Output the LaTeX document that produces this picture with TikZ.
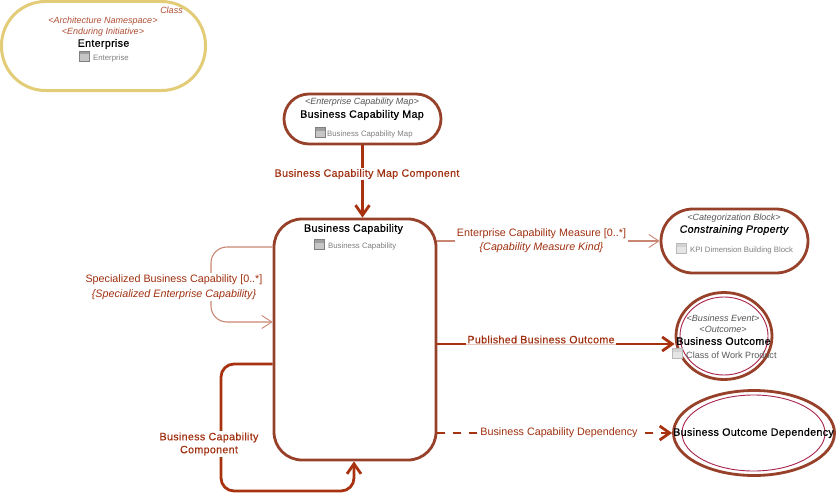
\documentclass[tikz,border=0pt]{standalone}
\usepackage{fontspec}
\setmainfont{Liberation Sans}
\newfontface\titlefont[LetterSpace=3,FakeBold=0.6]{Liberation Sans}
\newfontface\titleitfont[LetterSpace=3,FakeBold=0.6]{Liberation Sans Italic}
\newfontface\lblfont[LetterSpace=3,FakeBold=0.25]{Liberation Sans}
\usetikzlibrary{arrows.meta,calc,shapes.geometric}
\definecolor{shapeline}{HTML}{97402A}
\definecolor{yellowline}{HTML}{E3CC78}
\definecolor{boldline}{HTML}{A83210}
\definecolor{thinline}{HTML}{C98672}
\definecolor{lbl}{HTML}{A03010}
\definecolor{stereo}{HTML}{555555}
\definecolor{innerline}{HTML}{A8244A}
\tikzset{
  x=1pt,y=-1pt,
  rbox/.style={draw=shapeline,line width=2.8pt,fill=white,rectangle,inner sep=0pt},
  ell/.style={draw=shapeline,line width=2.8pt,fill=white,ellipse,inner sep=0pt},
  ellin/.style={draw=innerline,line width=0.9pt,ellipse,inner sep=0pt},
  title/.style={font=\titlefont\fontsize{10.7}{12}\selectfont,text=black,inner sep=0pt},
  titleit/.style={font=\titleitfont\fontsize{10.6}{12}\selectfont,text=black,inner sep=0pt},
  st/.style={font=\itshape\fontsize{9}{10}\selectfont,text=stereo,inner sep=0pt},
  stred/.style={font=\itshape\fontsize{9}{10}\selectfont,text=lbl!85!white,inner sep=0pt},
  sub/.style={font=\fontsize{7.8}{9}\selectfont,text=gray,inner sep=0pt,anchor=west},
  iconbox/.style={draw=gray,line width=0.7pt,fill=gray!45,minimum width=10pt,minimum height=10pt,inner sep=0pt,
    path picture={\fill[gray!75] (path picture bounding box.north west) rectangle ([yshift=-3.5pt]path picture bounding box.north east);}},
  iconpale/.style={draw=gray!55,line width=0.7pt,fill=gray!20,minimum width=10pt,minimum height=10pt,inner sep=0pt,
    path picture={\fill[gray!35] (path picture bounding box.north west) rectangle ([yshift=-3.5pt]path picture bounding box.north east);}},
  bold/.style={draw=boldline,line width=2.8pt},
  boldarrow/.style={bold,-{Straight Barb[length=10pt,width=14pt,line width=2.8pt]}},
  thin/.style={draw=thinline,line width=1.1pt},
  thinarrow/.style={thin,-{Straight Barb[length=10pt,width=13pt,line width=0.9pt]}},
  lab/.style={font=\lblfont\fontsize{10.7}{13}\selectfont,text=lbl,fill=white,inner sep=1.5pt,align=center},
  labr/.style={font=\fontsize{10.75}{15}\selectfont,text=lbl,fill=white,inner sep=1.5pt,align=center},
}
\begin{document}
\begin{tikzpicture}
\useasboundingbox (0,0) rectangle (837,495);
% shapes
\node[rbox,draw=yellowline,line width=3pt,rounded corners=44pt,minimum width=204pt,minimum height=89pt] (ent) at (103.5,46) {};
\node[rbox,rounded corners=25pt,minimum width=157pt,minimum height=50pt] (bcm) at (362.5,119) {};
\node[rbox,rounded corners=28pt,minimum width=162pt,minimum height=241pt] (bc) at (355,339.5) {};
\node[rbox,rounded corners=32pt,minimum width=147pt,minimum height=64pt] (cp) at (734.5,241) {};
\node[ell,minimum width=96pt,minimum height=87pt] (bo) at (724,336) {};
\node[ellin,minimum width=88pt,minimum height=78pt] (boin) at (724,336) {};
\node[ell,minimum width=161pt,minimum height=85pt] (dep) at (754,433) {};
\node[ellin,minimum width=143pt,minimum height=76pt] (depin) at (753.5,433) {};
% anchor points on the business capability box
\coordinate (pubstart) at (bc.east |- 0,344);
\coordinate (loopa) at (bc.west |- 0,247);
\coordinate (loopb) at (bc.west |- 0,322);
\coordinate (loopc) at (bc.west |- 0,364);
\coordinate (loopd) at (354,0 |- bc.south);
% connectors
\draw[boldarrow] (bcm.south) -- (bcm.south |- bc.north);
\draw[thinarrow] (bc.east |- cp.west) -- (cp.west);
\draw[boldarrow] (pubstart) -- (bo.west |- pubstart);
\draw[boldarrow,dash pattern=on 8pt off 8pt] (bc.east |- dep.west) -- (dep.west);
\draw[thinarrow,rounded corners=16pt] (loopa) -- (211,247) -- (211,322) -- (loopb);
\draw[boldarrow,rounded corners=13pt] (loopc) -- (221,364) -- (221,491) -- (354,491) -- (loopd);
% connector labels
\node[lab] (l1) at (367,174) {Business Capability Map Component};
\node[labr] (l2) at (541.5,241) {Enterprise Capability Measure [0..*]\\[-1pt]{\itshape\{Capability Measure Kind\}}};
\node[lab] (l3) at (541,339.5) {Published Business Outcome};
\draw[thinline!45,line width=0.8pt] (l3.west |- pubstart) -- (l3.east |- pubstart);
\node[labr] (l4) at (559,433) {Business Capability Dependency};
\node[labr] (l5) at (174,287) {Specialized Business Capability [0..*]\\{\itshape\{Specialized Enterprise Capability\}}};
\node[lab,align=center] (l6) at (209,444) {Business Capability\\Component};
% Enterprise
\node[stred] (n1) at (171.5,10) {Class};
\node[stred] (n2) at (103,21.5) {<Architecture Namespace>};
\node[stred] (n3) at (103,32.5) {<Enduring Initiative>};
\node[title] (n4) at (103.5,44) {Enterprise};
\node[iconbox] (i1) at (84.5,56) {};
\node[sub] (n5) at (93,58) {Enterprise};
% Business Capability Map
\node[st] (n6) at (362,102.5) {<Enterprise Capability Map>};
\node[title] (n7) at (362,115) {Business Capability Map};
\node[iconbox] (i2) at (320,132.5) {};
\node[sub] (n8) at (327,134) {Business Capability Map};
% Business Capability
\node[title] (n9) at (353.5,229) {Business Capability};
\node[iconbox] (i3) at (319,244) {};
\node[sub] (n10) at (328,246) {Business Capability};
% Constraining Property
\node[st] (n11) at (734,218.5) {<Categorization Block>};
\node[titleit] (n12) at (734,230) {Constraining Property};
\node[iconpale] (i4) at (681,248) {};
\node[sub] (n13) at (690,250) {KPI Dimension Building Block};
% Business Outcome
\node[st] (n14) at (723,318.5) {<Business Event>};
\node[st] (n15) at (723,329.5) {<Outcome>};
\node[title] (n16) at (723.5,341) {Business Outcome};
\node[iconpale] (i5) at (677.5,353.5) {};
\node[sub,text=black!65,font=\fontsize{9.1}{10}\selectfont] (n17) at (686,355) {Class of Work Product};
% Dependency
\node[title] (n18) at (753.5,433) {Business Outcome Dependency};
\end{tikzpicture}
\end{document}
